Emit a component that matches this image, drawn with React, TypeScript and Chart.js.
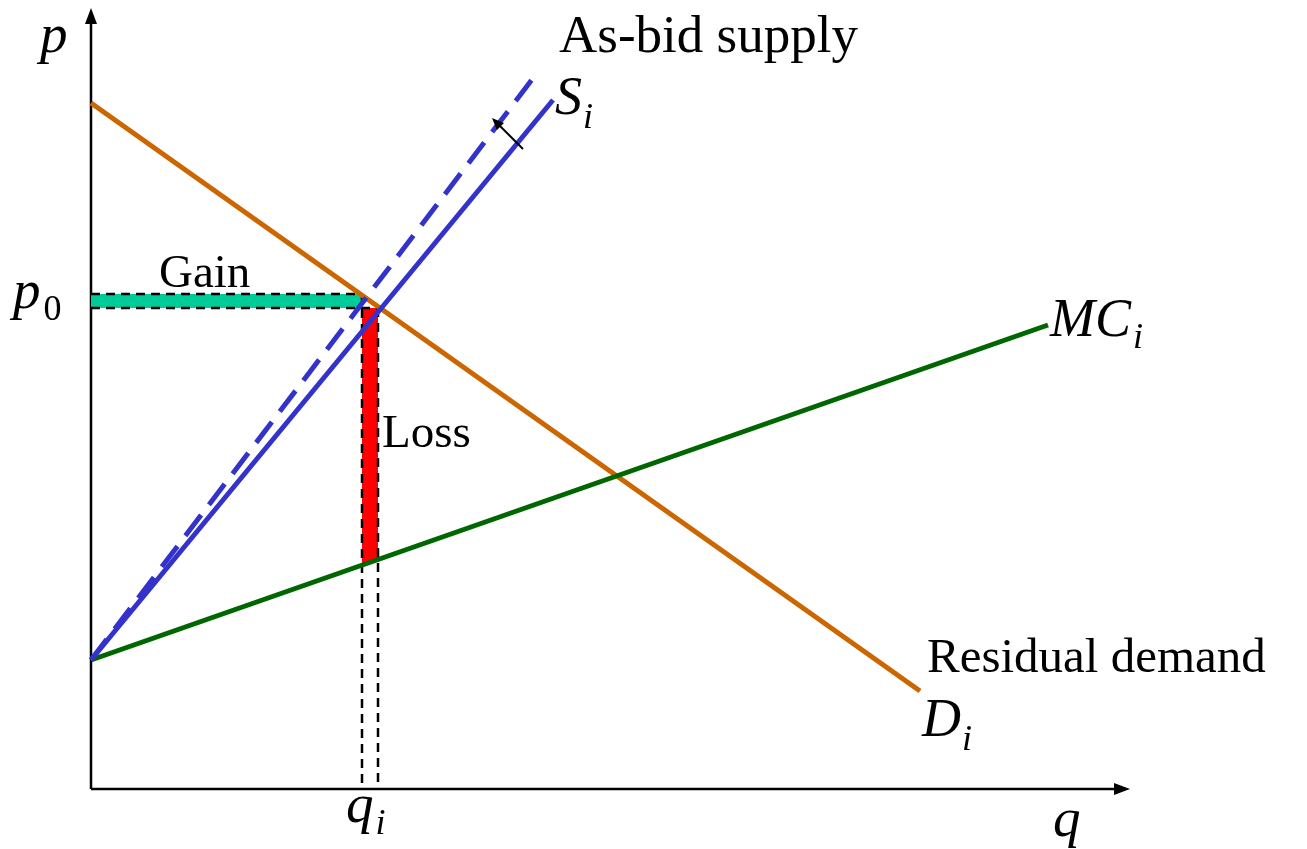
import React, { useEffect, useRef } from "react";
import { Chart, registerables } from "chart.js";

Chart.register(...registerables);

// Diagram values (q = quantity, p = price), in diagram units
const axisQMax = 1039;
const axisPMax = 781;

const demandQ = [0, 829];
const demandP = [686, 98];

const supplyQ = [0, 462];
const supplyP = [129, 689];

const bidSupplyQ = [0, 446];
const bidSupplyP = [129, 716];

const mcQ = [0, 957];
const mcP = [129, 464];

const qBid = 271; // as-bid quantity
const qi = 287; // quantity q_i
const pBid = 495; // as-bid price
const p0 = 481; // price p_0
const lossBottomP = [224, 230]; // MC at the loss strip edges

const shiftArrowQ = [432, 401];
const shiftArrowP = [640, 671];

const xy = (qs: number[], ps: number[]) => qs.map((q, i) => ({ x: q, y: ps[i] }));

export default function App() {
  const ref = useRef<HTMLCanvasElement | null>(null);

  useEffect(() => {
    document.body.style.margin = "0";
    const canvas = ref.current!;
    const serif = '"Liberation Serif", "Times New Roman", serif';

    const diagramPlugin = {
      id: "diagram",
      beforeDatasetsDraw(chart: any) {
        const ctx = chart.ctx as CanvasRenderingContext2D;
        const xs = chart.scales.x;
        const ys = chart.scales.y;
        const ox = xs.getPixelForValue(0);
        const oy = ys.getPixelForValue(0);
        const tx = xs.getPixelForValue(axisQMax);
        const ty = ys.getPixelForValue(axisPMax);
        ctx.save();
        ctx.strokeStyle = "#000";
        ctx.fillStyle = "#000";
        ctx.lineWidth = 2.5;
        ctx.beginPath();
        ctx.moveTo(ox, oy);
        ctx.lineTo(ox, ty + 12);
        ctx.moveTo(ox, oy);
        ctx.lineTo(tx - 12, oy);
        ctx.stroke();
        // arrowheads
        ctx.beginPath();
        ctx.moveTo(ox, ty);
        ctx.lineTo(ox - 6, ty + 16);
        ctx.lineTo(ox + 6, ty + 16);
        ctx.closePath();
        ctx.fill();
        ctx.beginPath();
        ctx.moveTo(tx, oy);
        ctx.lineTo(tx - 16, oy - 6);
        ctx.lineTo(tx - 16, oy + 6);
        ctx.closePath();
        ctx.fill();
        ctx.restore();
      },
      afterDatasetsDraw(chart: any) {
        const ctx = chart.ctx as CanvasRenderingContext2D;
        const xs = chart.scales.x;
        const ys = chart.scales.y;
        ctx.save();
        // small shift arrow
        const ax0 = xs.getPixelForValue(shiftArrowQ[0]);
        const ay0 = ys.getPixelForValue(shiftArrowP[0]);
        const ax1 = xs.getPixelForValue(shiftArrowQ[1]);
        const ay1 = ys.getPixelForValue(shiftArrowP[1]);
        const ang = Math.atan2(ay1 - ay0, ax1 - ax0);
        ctx.strokeStyle = "#000";
        ctx.fillStyle = "#000";
        ctx.lineWidth = 2;
        ctx.beginPath();
        ctx.moveTo(ax0, ay0);
        ctx.lineTo(ax1 - 6 * Math.cos(ang), ay1 - 6 * Math.sin(ang));
        ctx.stroke();
        ctx.beginPath();
        ctx.moveTo(ax1, ay1);
        ctx.lineTo(ax1 - 12 * Math.cos(ang) + 5 * Math.sin(ang), ay1 - 12 * Math.sin(ang) - 5 * Math.cos(ang));
        ctx.lineTo(ax1 - 12 * Math.cos(ang) - 5 * Math.sin(ang), ay1 - 12 * Math.sin(ang) + 5 * Math.cos(ang));
        ctx.closePath();
        ctx.fill();

        // texts
        ctx.fillStyle = "#000";
        ctx.textAlign = "left";
        ctx.textBaseline = "alphabetic";
        const it = (s: number) => `italic ${s}px ${serif}`;
        const rm = (s: number) => `${s}px ${serif}`;
        const text = (t: string, x: number, y: number, font: string) => {
          ctx.font = font;
          ctx.fillText(t, x, y);
          return ctx.measureText(t).width;
        };
        text("p", 40, 52, it(55));
        text("As-bid supply", 559, 52, rm(53));
        const sw = text("S", 555, 114, it(54));
        text("i", 555 + sw + 1, 128, it(36));
        text("Gain", 159, 287, rm(47));
        const pw = text("p", 13, 308, it(55));
        text("0", 13 + pw + 3, 320, rm(36));
        text("Loss", 382, 447, rm(47));
        const mw = text("MC", 1050, 336, it(54));
        text("i", 1050 + mw + 2, 348, it(36));
        text("Residual demand", 927, 672, rm(49));
        const dw = text("D", 922, 736, it(54));
        text("i", 922 + dw + 1, 750, it(36));
        const qw = text("q", 346, 822, it(55));
        text("i", 346 + qw + 2, 834, it(36));
        text("q", 1053, 836, it(55));
        ctx.restore();
      },
    };

    const dash = (pts: { x: number; y: number }[], order: number) => ({
      data: pts,
      borderColor: "#000",
      borderWidth: 2.5,
      borderDash: [9, 6],
      pointRadius: 0,
      showLine: true,
      fill: false,
      order,
    });

    const chart = new Chart(canvas, {
      type: "scatter",
      data: {
        datasets: [
          {
            data: xy(supplyQ, supplyP),
            borderColor: "#3333CC",
            borderWidth: 5,
            pointRadius: 0,
            showLine: true,
            order: 1,
          },
          {
            data: xy(bidSupplyQ, bidSupplyP),
            borderColor: "#3333CC",
            borderWidth: 5,
            borderDash: [26, 13],
            pointRadius: 0,
            showLine: true,
            order: 2,
          },
          {
            data: xy(mcQ, mcP),
            borderColor: "#006600",
            borderWidth: 5,
            pointRadius: 0,
            showLine: true,
            order: 3,
          },
          {
            data: xy(demandQ, demandP),
            borderColor: "#CC6600",
            borderWidth: 5,
            pointRadius: 0,
            showLine: true,
            order: 4,
          },
          dash(xy([0, qBid], [pBid, pBid]), 5),
          dash(xy([0, qi], [p0, p0]), 5),
          dash(xy([qBid, qBid], [pBid, 0]), 5),
          dash(xy([qi, qi], [p0, 0]), 5),
          {
            data: xy([0, qBid, qBid, 0, 0], [p0, p0, pBid, pBid, p0]),
            borderColor: "rgba(0,0,0,0)",
            borderWidth: 0,
            backgroundColor: "#00CC99",
            pointRadius: 0,
            showLine: true,
            fill: "shape",
            order: 6,
          },
          {
            data: xy([qBid, qi, qi, qBid, qBid], [lossBottomP[0], lossBottomP[1], p0, p0, lossBottomP[0]]),
            borderColor: "rgba(0,0,0,0)",
            borderWidth: 0,
            backgroundColor: "#FF0000",
            pointRadius: 0,
            showLine: true,
            fill: "shape",
            order: 6,
          },
        ],
      },
      options: {
        animation: false,
        responsive: false,
        layout: { padding: 0 },
        plugins: { legend: { display: false }, tooltip: { enabled: false } },
        events: [],
        scales: {
          x: { type: "linear", min: -91, max: 1216, display: false },
          y: { type: "linear", min: -60, max: 789, display: false },
        },
      },
      plugins: [diagramPlugin],
    } as any);

    return () => chart.destroy();
  }, []);

  return (
    <div style={{ position: "absolute", left: 0, top: 0, width: 1307, height: 849, background: "#fff" }}>
      <canvas ref={ref} width={1307} height={849} />
    </div>
  );
}
